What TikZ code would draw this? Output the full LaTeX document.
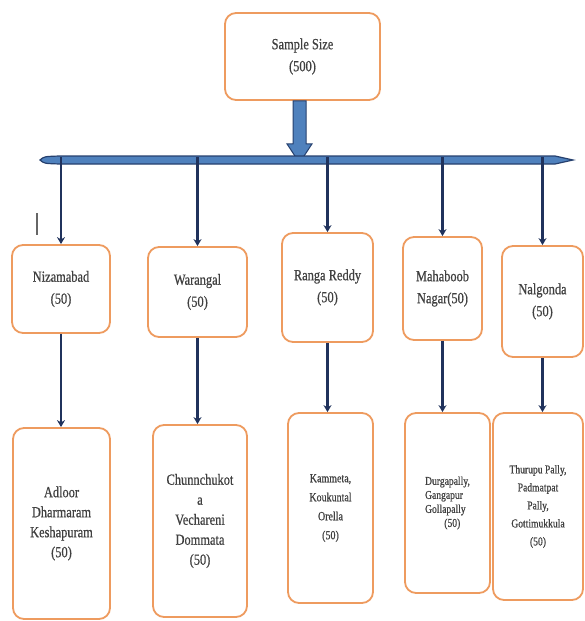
\documentclass[tikz,border=0pt]{standalone}
\usepackage{fontspec}
\setmainfont{Liberation Serif}
\newfontfamily\narrowserif[FakeStretch=0.8, FakeBold=0.6]{Liberation Serif}
\usetikzlibrary{arrows.meta}

\definecolor{boxorange}{RGB}{238,155,95}
\definecolor{barblue}{RGB}{79,129,189}
\definecolor{bardark}{RGB}{38,64,110}
\definecolor{linenavy}{RGB}{32,50,92}

\tikzset{
  place/.style={draw=boxorange, line width=1.8pt, rounded corners=11pt, fill=white,
    align=center, inner sep=2pt, text=black!75, font=\narrowserif\fontsize{15.5}{22}\selectfont},
  village/.style={place, font=\narrowserif\fontsize{15.5}{20}\selectfont},
  conn/.style={draw=linenavy, line width=2.6pt, -{Stealth[length=7pt,width=8pt]}},
}

\begin{document}
\begin{tikzpicture}[x=1pt, y=-1pt]
  \useasboundingbox (0,0) rectangle (585,621);

  \node[place, minimum width=155, minimum height=87] (sample) at (302.5,56.5) {Sample Size\\(500)};

  % districts
  \node[place, minimum width=98, minimum height=88]  (nizamabad)  at (61,289)    {Nizamabad\\(50)};
  \node[place, minimum width=99, minimum height=90]  (warangal)   at (197.5,292) {Warangal\\(50)};
  \node[place, minimum width=91, minimum height=109] (rangareddy) at (327.5,287.5) {Ranga Reddy\\(50)};
  \node[place, minimum width=79, minimum height=103] (mahaboob)   at (442.5,288.5) {Mahaboob\\Nagar(50)};
  \node[place, minimum width=81, minimum height=111] (nalgonda)   at (542.5,301.5) {Nalgonda\\(50)};

  % villages
  \node[village, minimum width=97, minimum height=191] (adloor)  at (61.5,523.5)
    {Adloor\\Dharmaram\\Keshapuram\\(50)};
  \node[village, minimum width=94, minimum height=192] (chunnchukota) at (200,521)
    {Chunnchukot\\a\\Vechareni\\Dommata\\(50)};
  \node[village, minimum width=85, minimum height=190, font=\narrowserif\fontsize{12.5}{19}\selectfont] (kammeta) at (330.5,508)
    {Kammeta,\\Koukuntal\\Orella\\(50)};
  \node[village, minimum width=85, minimum height=180, align=left, font=\narrowserif\fontsize{12}{14}\selectfont] (durgapally) at (447.5,503)
    {Durgapally,\\Gangapur\\Gollapally\\\hspace*{1.6em}(50)};
  \node[village, minimum width=90, minimum height=187, font=\narrowserif\fontsize{12}{18}\selectfont] (thurupu) at (538,506.5)
    {Thurupu Pally,\\Padmatpat\\Pally,\\Gottimukkula\\(50)};

  % block arrow and bar
  \begin{scope}[shift={(sample.south)}]
    \filldraw[fill=barblue, draw=bardark, line width=1pt]
      (-9.5,0) -- (3.5,0) -- (3.5,43) -- (9.5,43) -- (-3,62) -- (-15.5,43) -- (-9.5,43) -- cycle;
  \end{scope}
  \filldraw[fill=barblue, draw=bardark, line width=1.2pt]
    (40,160) .. controls (44,156.5) .. (60,156) -- (555,156) -- (573,160) -- (555,164) -- (60,164) .. controls (44,163.5) .. cycle;
  \coordinate (bar) at (0,157);

  \foreach \d in {nizamabad, warangal, rangareddy, mahaboob, nalgonda}
    \draw[conn] (\d.north |- bar) -- (\d.north);

  \foreach \d/\v in {nizamabad/adloor, warangal/chunnchukota, rangareddy/kammeta,
                     mahaboob/durgapally, nalgonda/thurupu}
    \draw[conn] (\d.south) -- (\d.south |- \v.north);

  \draw[black!60, line width=1.5pt] (37,213) -- (37,235);
\end{tikzpicture}
\end{document}
